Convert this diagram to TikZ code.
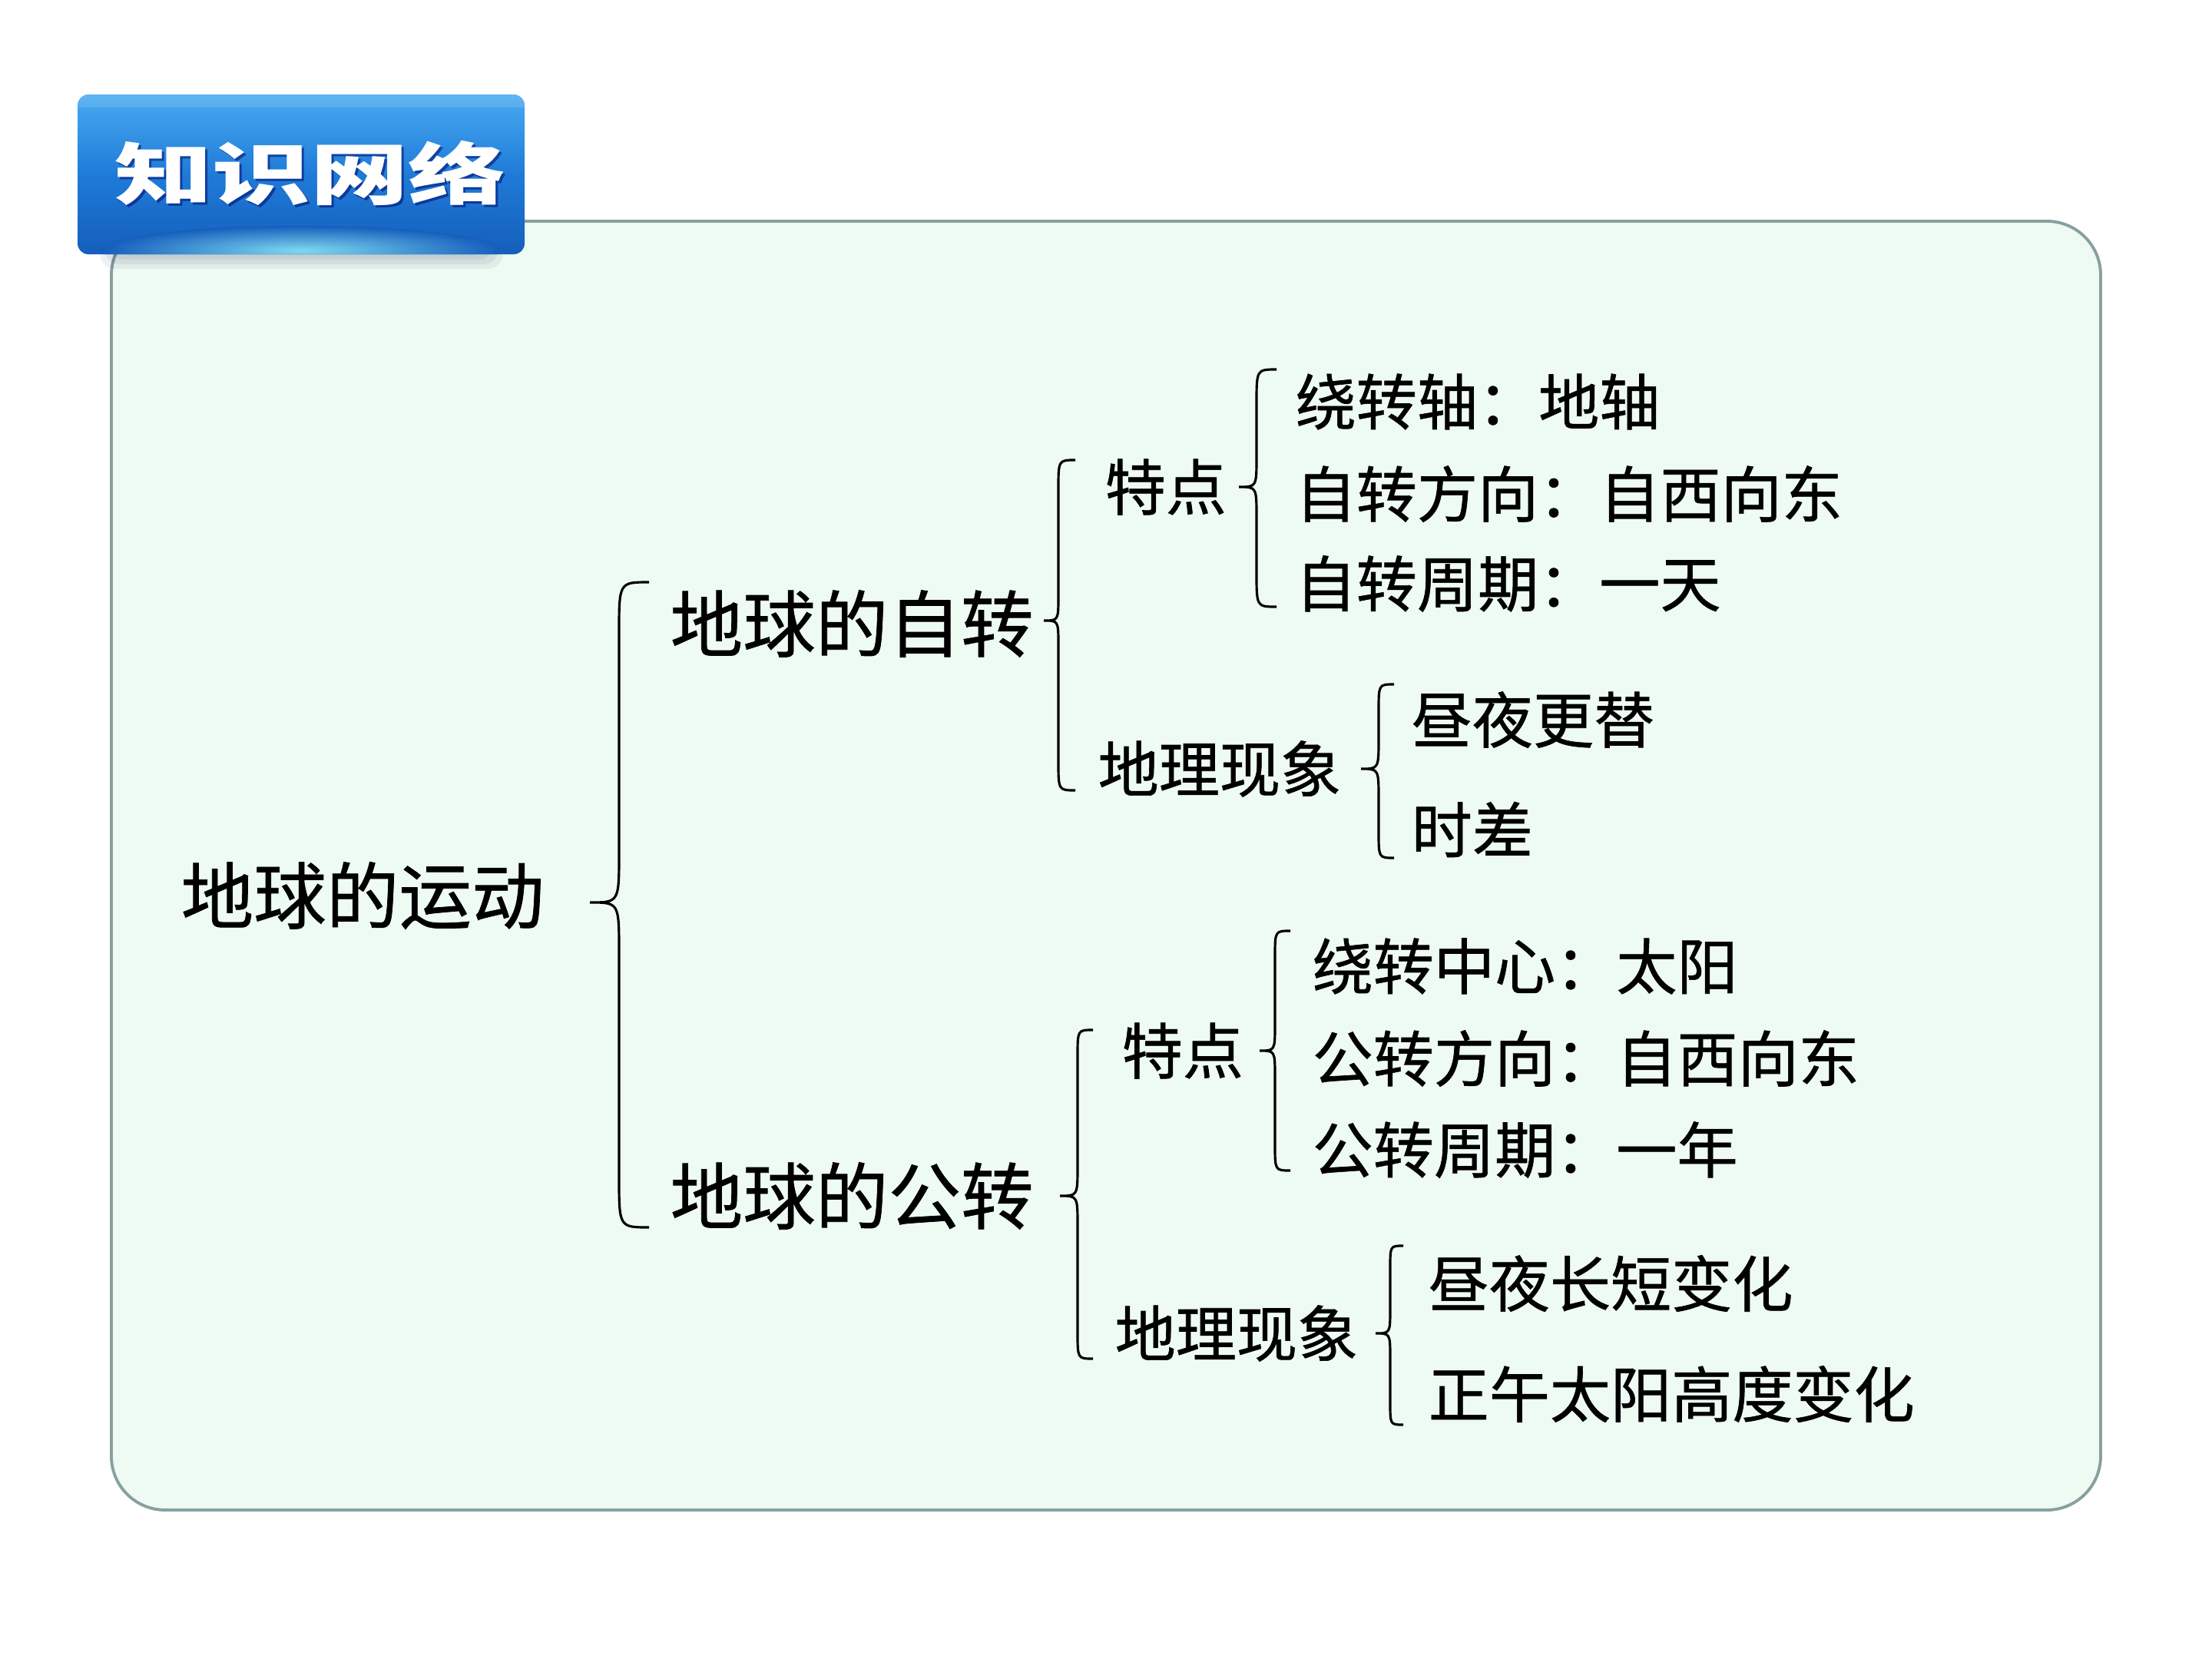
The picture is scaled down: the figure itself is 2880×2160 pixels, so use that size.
\documentclass[tikz,border=0pt]{standalone}
\usepackage{fontspec}
\usepackage{graphicx}
\newfontfamily\cjk[FakeBold=0.8]{Noto Sans CJK SC}
\newfontfamily\cjkbadge{Noto Sans CJK SC}
\usetikzlibrary{fadings}
\definecolor{panelfill}{HTML}{EEFBF2}
\definecolor{panelline}{HTML}{87A0A0}
\definecolor{badgetop}{HTML}{49AAF2}
\definecolor{badgemid}{HTML}{1F7BD8}
\definecolor{badgebot}{HTML}{155EBC}
\definecolor{badgeglow}{HTML}{8AE6F6}
\tikzset{
  bigtxt/.style={font=\cjk\fontsize{26.9}{30}\selectfont, anchor=west, inner sep=0pt, text=black},
  smalltxt/.style={font=\cjk\fontsize{22.5}{26}\selectfont, anchor=west, inner sep=0pt, text=black},
  bracestyle/.style={draw=black, line width=0.9pt},
  panelstyle/.style={fill=panelfill, draw=panelline, line width=1.1pt, rounded corners=0.7cm},
  badgetxt/.style={inner sep=0pt, font=\cjkbadge\bfseries\fontsize{25}{28}\selectfont},
}
% #1 end x, #2 line x, #3 tip x, #4 top y, #5 tip y, #6 bottom y
\newcommand\drawbrace[6]{%
  \draw[bracestyle]
    (#1,#4) .. controls (#2,#4) .. ({#2},{#4+1.7*(#1-#2)})
    -- ({#2},{#5-1.7*(#2-#3)}) .. controls (#2,#5) .. (#3,#5)
    .. controls (#2,#5) .. ({#2},{#5+1.7*(#2-#3)})
    -- ({#2},{#6-1.7*(#1-#2)}) .. controls (#2,#6) .. (#1,#6);}
\begin{document}
\begin{tikzpicture}[x=0.01cm,y=-0.01cm]
\useasboundingbox (0,0) rectangle (2880,2160);
\fill[white] (0,0) rectangle (2880,2160);
% panel
\path[panelstyle] (145,288) rectangle (2735,1966);
% badge shadow
\foreach \i/\o in {0/0.06,6/0.06,12/0.06,18/0.05} {
  \fill[black!70!blue, opacity=\o, rounded corners=0.2cm] (130+\i,300-\i) rectangle (655-\i,350-\i);
}
% badge
\shade[top color=badgetop, bottom color=badgebot, middle color=badgemid, rounded corners=0.14cm] (101,123) rectangle (683,331);
\begin{scope}
  \clip[rounded corners=0.14cm] (101,123) rectangle (683,331);
  \shade[inner color=badgeglow, outer color=badgebot, opacity=0.9] (392,326) ellipse (260 and 32);
  \fill[white, opacity=0.12] (101,123) rectangle (683,140);
\end{scope}
\node[badgetxt, text=black!60!blue, opacity=0.5] at (407,228) {\scalebox{1.45}[1]{知识网络}};
\node[badgetxt, text=white] (title) at (404,225) {\scalebox{1.45}[1]{知识网络}};
% nodes
\node[bigtxt] (root) at (235,1166) {地球的运动};
\node[bigtxt] (rot) at (872,812) {地球的自转};
\node[bigtxt] (rev) at (872,1557) {地球的公转};
\node[smalltxt] (rotfeat) at (1438,634) {特点};
\node[smalltxt] (rotphen) at (1429,1001) {地理现象};
\node[smalltxt] (revfeat) at (1460,1368) {特点};
\node[smalltxt] (revphen) at (1451,1736) {地理现象};
\node[smalltxt] (rf1) at (1686,523) {绕转轴：地轴};
\node[smalltxt] (rf2) at (1686,643) {自转方向：自西向东};
\node[smalltxt] (rf3) at (1686,760) {自转周期：一天};
\node[smalltxt] (rp1) at (1837,937) {昼夜更替};
\node[smalltxt] (rp2) at (1837,1080) {时差};
\node[smalltxt] (vf1) at (1708,1258) {绕转中心：太阳};
\node[smalltxt] (vf2) at (1708,1378) {公转方向：自西向东};
\node[smalltxt] (vf3) at (1708,1497) {公转周期：一年};
\node[smalltxt] (vp1) at (1859,1671) {昼夜长短变化};
\node[smalltxt] (vp2) at (1859,1815) {正午太阳高度变化};
% braces
\drawbrace{845}{806}{768}{758}{1175}{1598}
\drawbrace{1400}{1378}{1359}{599}{808}{1029}
\drawbrace{1662}{1636}{1613}{481}{634}{790}
\drawbrace{1815}{1795}{1772}{891}{1001}{1117}
\drawbrace{1423}{1403}{1380}{1341}{1557}{1769}
\drawbrace{1680}{1660}{1640}{1212}{1368}{1524}
\drawbrace{1827}{1810}{1791}{1622}{1736}{1855}
\end{tikzpicture}
\end{document}
